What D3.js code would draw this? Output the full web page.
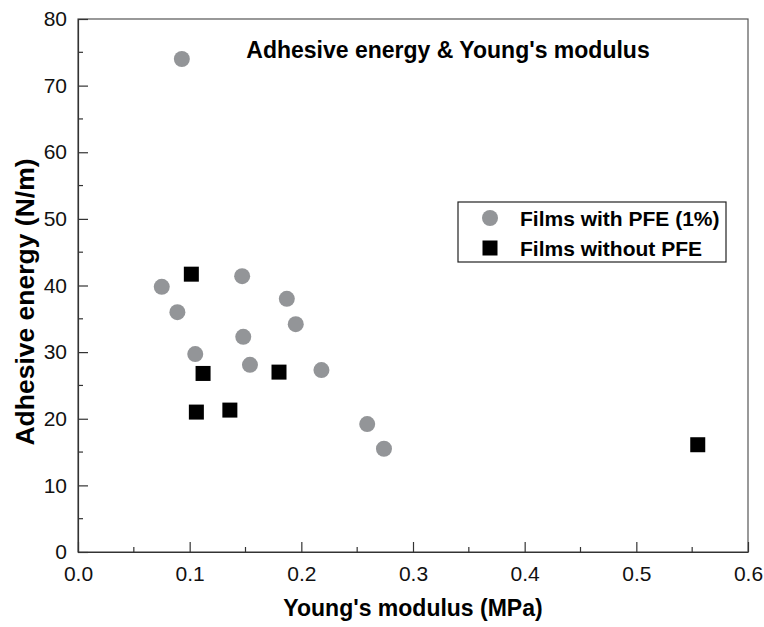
<!DOCTYPE html>
<html>
<head>
<meta charset="utf-8">
<script src="https://cdn.jsdelivr.net/npm/d3@7"></script>
<style>
	body { margin: 0; background: #fff; }
	text { font-family: "Liberation Sans", Arial, sans-serif; }
</style>
</head>
<body>
<svg id="svg"></svg>
<script>
// films with PFE (1%) - [Young's modulus (MPa), adhesive energy (N/m)]
const withPfe = [
	[0.093, 74.0], [0.075, 39.8], [0.089, 36.0], [0.105, 29.7],
	[0.147, 41.4], [0.148, 32.3], [0.154, 28.1], [0.187, 38.0],
	[0.195, 34.2], [0.218, 27.3], [0.259, 19.2], [0.274, 15.5]
];
// films without PFE
const withoutPfe = [
	[0.1015, 41.7], [0.112, 26.8], [0.106, 21.0],
	[0.136, 21.3], [0.180, 27.0], [0.555, 16.1]
];
const xTicks = [0, 0.1, 0.2, 0.3, 0.4, 0.5, 0.6];
const yTicks = [0, 10, 20, 30, 40, 50, 60, 70, 80];
const legendLabels = ['Films with PFE (1%)', 'Films without PFE'];
const chartTitle = 'Adhesive energy & Young\'s modulus';

const width = 764;
const height = 627;
const margin = {top: 19, right: 16, bottom: 75, left: 78};
const plotW = width - margin.left - margin.right;
const plotH = height - margin.top - margin.bottom;
const grey = '#939598';
const axisColor = '#333';

const svg = d3.select('#svg').attr('width', width).attr('height', height);

const x = d3.scaleLinear().domain([0, 0.6]).range([0, plotW]);
const y = d3.scaleLinear().domain([0, 80]).range([plotH, 0]);

const g = svg.append('g')
	.attr('transform', `translate(${margin.left}, ${margin.top})`);

// frame (top and right sides have no ticks)
g.append('rect')
	.attr('width', plotW)
	.attr('height', plotH)
	.attr('fill', 'none')
	.attr('stroke', '#555')
	.attr('stroke-width', 1.2);

// minor ticks
const xMinor = d3.range(0.05, 0.6, 0.1);
const yMinor = d3.range(5, 80, 10);
g.selectAll('line.xminor')
		.data(xMinor)
		.enter()
	.append('line')
		.attr('x1', d => x(d)).attr('x2', d => x(d))
		.attr('y1', plotH).attr('y2', plotH - 5)
		.attr('stroke', axisColor).attr('stroke-width', 1.2);
g.selectAll('line.yminor')
		.data(yMinor)
		.enter()
	.append('line')
		.attr('x1', 0).attr('x2', 5)
		.attr('y1', d => y(d)).attr('y2', d => y(d))
		.attr('stroke', axisColor).attr('stroke-width', 1.2);

// major axes with inward ticks
const xAxis = g.append('g')
	.attr('transform', `translate(0, ${plotH})`)
	.call(d3.axisBottom(x).tickValues(xTicks).tickFormat(d3.format('.1f'))
		.tickSizeInner(-10).tickSizeOuter(0).tickPadding(14));
const yAxis = g.append('g')
	.call(d3.axisLeft(y).tickValues(yTicks).tickFormat(d3.format('d'))
		.tickSizeInner(-10).tickSizeOuter(0).tickPadding(11));

[xAxis, yAxis].forEach(ax => {
	ax.select('.domain').attr('stroke', axisColor).attr('stroke-width', 1.2);
	ax.selectAll('.tick line').attr('stroke', axisColor).attr('stroke-width', 1.2);
	ax.selectAll('.tick text')
		.attr('fill', '#111')
		.style('font-size', '21px')
		.style('font-family', '"Liberation Sans", Arial, sans-serif');
});

// data points
g.selectAll('circle.pfe')
		.data(withPfe)
		.enter()
	.append('circle')
		.attr('class', 'pfe')
		.attr('cx', d => x(d[0]))
		.attr('cy', d => y(d[1]))
		.attr('r', 8)
		.attr('fill', grey);

const sq = 15;
g.selectAll('rect.nopfe')
		.data(withoutPfe)
		.enter()
	.append('rect')
		.attr('class', 'nopfe')
		.attr('x', d => x(d[0]) - sq / 2)
		.attr('y', d => y(d[1]) - sq / 2)
		.attr('width', sq)
		.attr('height', sq)
		.attr('fill', '#000');

// title
svg.append('text')
	.attr('x', 448)
	.attr('y', 58)
	.attr('text-anchor', 'middle')
	.style('font-size', '23px')
	.style('font-weight', 'bold')
	.text(chartTitle);

// axis titles
svg.append('text')
	.attr('x', 413)
	.attr('y', 616)
	.attr('text-anchor', 'middle')
	.style('font-size', '23px')
	.style('font-weight', 'bold')
	.text('Young\'s modulus (MPa)');

svg.append('text')
	.attr('transform', 'translate(34, 302) rotate(-90)')
	.attr('text-anchor', 'middle')
	.style('font-size', '26.5px')
	.style('font-weight', 'bold')
	.text('Adhesive energy (N/m)');

// legend
const legend = svg.append('g').attr('transform', 'translate(458, 202)');
legend.append('rect')
	.attr('width', 268)
	.attr('height', 60)
	.attr('fill', '#fff')
	.attr('stroke', '#222')
	.attr('stroke-width', 1.2);

const legendRows = legend.selectAll('g.row')
		.data(legendLabels)
		.enter()
	.append('g')
		.attr('class', 'row')
		.attr('transform', (d, i) => `translate(0, ${16 + i * 30})`);

legendRows.each(function(d, i) {
	const row = d3.select(this);
	if (i === 0) {
		row.append('circle').attr('cx', 32).attr('cy', 0).attr('r', 8).attr('fill', grey);
	} else {
		row.append('rect').attr('x', 32 - sq / 2).attr('y', -sq / 2)
			.attr('width', sq).attr('height', sq).attr('fill', '#000');
	}
	row.append('text')
		.attr('x', 62)
		.attr('y', 8)
		.style('font-size', '21px')
		.style('font-weight', 'bold')
		.text(d);
});
</script>
</body>
</html>
